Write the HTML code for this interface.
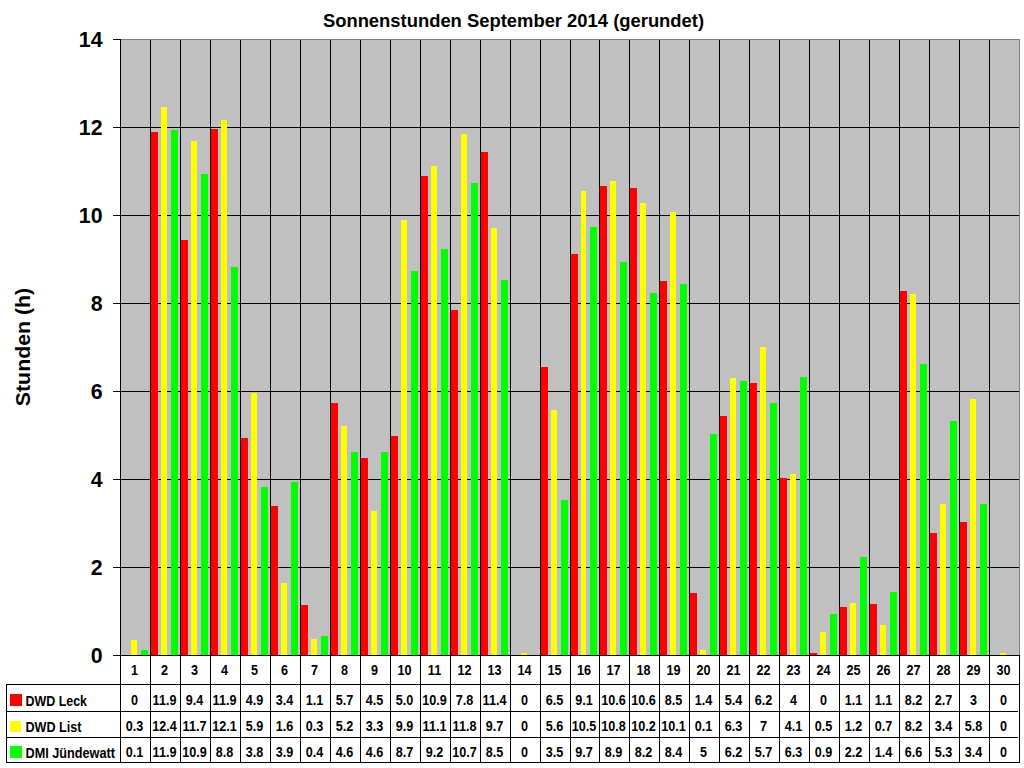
<!DOCTYPE html>
<html lang="de"><head><meta charset="utf-8"><title>Sonnenstunden September 2014</title>
<style>html,body{margin:0;padding:0;background:#fff;overflow:hidden}svg{display:block}text{font-family:"Liberation Sans",Arial,sans-serif;font-weight:bold;fill:#000}.t{font-size:18.4px}.y{font-size:21.33px}.n{font-size:14.67px}.v{font-size:15.4px}</style></head><body>
<svg width="1024" height="768" viewBox="0 0 1024 768">
<rect x="0" y="0" width="1024" height="768" fill="#fff"/>
<g shape-rendering="crispEdges">
<rect x="120" y="39" width="900" height="617" fill="#808080"/>
<rect x="121" y="40" width="898" height="615" fill="#c0c0c0"/>
<rect x="121" y="567" width="898" height="1" fill="#000"/>
<rect x="121" y="479" width="898" height="1" fill="#000"/>
<rect x="121" y="391" width="898" height="1" fill="#000"/>
<rect x="121" y="303" width="898" height="1" fill="#000"/>
<rect x="121" y="215" width="898" height="1" fill="#000"/>
<rect x="121" y="127" width="898" height="1" fill="#000"/>
<rect x="150" y="40" width="1" height="723" fill="#000"/>
<rect x="180" y="40" width="1" height="723" fill="#000"/>
<rect x="210" y="40" width="1" height="723" fill="#000"/>
<rect x="240" y="40" width="1" height="723" fill="#000"/>
<rect x="270" y="40" width="1" height="723" fill="#000"/>
<rect x="300" y="40" width="1" height="723" fill="#000"/>
<rect x="330" y="40" width="1" height="723" fill="#000"/>
<rect x="360" y="40" width="1" height="723" fill="#000"/>
<rect x="390" y="40" width="1" height="723" fill="#000"/>
<rect x="420" y="40" width="1" height="723" fill="#000"/>
<rect x="450" y="40" width="1" height="723" fill="#000"/>
<rect x="480" y="40" width="1" height="723" fill="#000"/>
<rect x="510" y="40" width="1" height="723" fill="#000"/>
<rect x="540" y="40" width="1" height="723" fill="#000"/>
<rect x="570" y="40" width="1" height="723" fill="#000"/>
<rect x="599" y="40" width="1" height="723" fill="#000"/>
<rect x="629" y="40" width="1" height="723" fill="#000"/>
<rect x="659" y="40" width="1" height="723" fill="#000"/>
<rect x="689" y="40" width="1" height="723" fill="#000"/>
<rect x="719" y="40" width="1" height="723" fill="#000"/>
<rect x="749" y="40" width="1" height="723" fill="#000"/>
<rect x="779" y="40" width="1" height="723" fill="#000"/>
<rect x="809" y="40" width="1" height="723" fill="#000"/>
<rect x="839" y="40" width="1" height="723" fill="#000"/>
<rect x="869" y="40" width="1" height="723" fill="#000"/>
<rect x="899" y="40" width="1" height="723" fill="#000"/>
<rect x="929" y="40" width="1" height="723" fill="#000"/>
<rect x="959" y="40" width="1" height="723" fill="#000"/>
<rect x="989" y="40" width="1" height="723" fill="#000"/>
<rect x="131" y="640" width="6" height="15" fill="#ffff00"/>
<rect x="141" y="650" width="7" height="5" fill="#00ff00"/>
<rect x="151" y="132" width="7" height="523" fill="#ff0000"/>
<rect x="161" y="107" width="6" height="548" fill="#ffff00"/>
<rect x="171" y="130" width="7" height="525" fill="#00ff00"/>
<rect x="181" y="240" width="7" height="415" fill="#ff0000"/>
<rect x="191" y="141" width="6" height="514" fill="#ffff00"/>
<rect x="201" y="174" width="7" height="481" fill="#00ff00"/>
<rect x="211" y="129" width="7" height="526" fill="#ff0000"/>
<rect x="221" y="120" width="6" height="535" fill="#ffff00"/>
<rect x="231" y="267" width="7" height="388" fill="#00ff00"/>
<rect x="241" y="438" width="7" height="217" fill="#ff0000"/>
<rect x="251" y="393" width="6" height="262" fill="#ffff00"/>
<rect x="261" y="487" width="7" height="168" fill="#00ff00"/>
<rect x="271" y="506" width="7" height="149" fill="#ff0000"/>
<rect x="281" y="583" width="6" height="72" fill="#ffff00"/>
<rect x="291" y="482" width="7" height="173" fill="#00ff00"/>
<rect x="301" y="605" width="7" height="50" fill="#ff0000"/>
<rect x="311" y="639" width="6" height="16" fill="#ffff00"/>
<rect x="321" y="636" width="7" height="19" fill="#00ff00"/>
<rect x="331" y="403" width="7" height="252" fill="#ff0000"/>
<rect x="341" y="426" width="6" height="229" fill="#ffff00"/>
<rect x="351" y="452" width="7" height="203" fill="#00ff00"/>
<rect x="361" y="458" width="7" height="197" fill="#ff0000"/>
<rect x="371" y="511" width="6" height="144" fill="#ffff00"/>
<rect x="381" y="452" width="7" height="203" fill="#00ff00"/>
<rect x="391" y="436" width="7" height="219" fill="#ff0000"/>
<rect x="401" y="220" width="6" height="435" fill="#ffff00"/>
<rect x="411" y="271" width="7" height="384" fill="#00ff00"/>
<rect x="421" y="176" width="7" height="479" fill="#ff0000"/>
<rect x="431" y="166" width="6" height="489" fill="#ffff00"/>
<rect x="441" y="249" width="7" height="406" fill="#00ff00"/>
<rect x="451" y="310" width="7" height="345" fill="#ff0000"/>
<rect x="461" y="134" width="6" height="521" fill="#ffff00"/>
<rect x="471" y="183" width="7" height="472" fill="#00ff00"/>
<rect x="481" y="152" width="7" height="503" fill="#ff0000"/>
<rect x="491" y="228" width="6" height="427" fill="#ffff00"/>
<rect x="501" y="280" width="7" height="375" fill="#00ff00"/>
<rect x="521" y="653" width="6" height="2" fill="#ffff00"/>
<rect x="541" y="367" width="7" height="288" fill="#ff0000"/>
<rect x="551" y="410" width="6" height="245" fill="#ffff00"/>
<rect x="561" y="500" width="7" height="155" fill="#00ff00"/>
<rect x="571" y="254" width="7" height="401" fill="#ff0000"/>
<rect x="581" y="191" width="5" height="464" fill="#ffff00"/>
<rect x="590" y="227" width="7" height="428" fill="#00ff00"/>
<rect x="600" y="186" width="7" height="469" fill="#ff0000"/>
<rect x="610" y="181" width="6" height="474" fill="#ffff00"/>
<rect x="620" y="262" width="7" height="393" fill="#00ff00"/>
<rect x="630" y="188" width="7" height="467" fill="#ff0000"/>
<rect x="640" y="203" width="6" height="452" fill="#ffff00"/>
<rect x="650" y="293" width="7" height="362" fill="#00ff00"/>
<rect x="660" y="281" width="7" height="374" fill="#ff0000"/>
<rect x="670" y="212" width="6" height="443" fill="#ffff00"/>
<rect x="680" y="284" width="7" height="371" fill="#00ff00"/>
<rect x="690" y="593" width="7" height="62" fill="#ff0000"/>
<rect x="700" y="650" width="6" height="5" fill="#ffff00"/>
<rect x="710" y="434" width="7" height="221" fill="#00ff00"/>
<rect x="720" y="416" width="7" height="239" fill="#ff0000"/>
<rect x="730" y="378" width="6" height="277" fill="#ffff00"/>
<rect x="740" y="381" width="7" height="274" fill="#00ff00"/>
<rect x="750" y="383" width="7" height="272" fill="#ff0000"/>
<rect x="760" y="347" width="6" height="308" fill="#ffff00"/>
<rect x="770" y="403" width="7" height="252" fill="#00ff00"/>
<rect x="780" y="478" width="7" height="177" fill="#ff0000"/>
<rect x="790" y="474" width="6" height="181" fill="#ffff00"/>
<rect x="800" y="377" width="7" height="278" fill="#00ff00"/>
<rect x="810" y="653" width="7" height="2" fill="#ff0000"/>
<rect x="820" y="632" width="6" height="23" fill="#ffff00"/>
<rect x="830" y="614" width="7" height="41" fill="#00ff00"/>
<rect x="840" y="607" width="7" height="48" fill="#ff0000"/>
<rect x="850" y="603" width="6" height="52" fill="#ffff00"/>
<rect x="860" y="557" width="7" height="98" fill="#00ff00"/>
<rect x="870" y="604" width="7" height="51" fill="#ff0000"/>
<rect x="880" y="625" width="6" height="30" fill="#ffff00"/>
<rect x="890" y="592" width="7" height="63" fill="#00ff00"/>
<rect x="900" y="291" width="7" height="364" fill="#ff0000"/>
<rect x="910" y="294" width="6" height="361" fill="#ffff00"/>
<rect x="920" y="364" width="7" height="291" fill="#00ff00"/>
<rect x="930" y="533" width="7" height="122" fill="#ff0000"/>
<rect x="940" y="504" width="6" height="151" fill="#ffff00"/>
<rect x="950" y="421" width="7" height="234" fill="#00ff00"/>
<rect x="960" y="522" width="7" height="133" fill="#ff0000"/>
<rect x="970" y="399" width="6" height="256" fill="#ffff00"/>
<rect x="980" y="504" width="7" height="151" fill="#00ff00"/>
<rect x="1000" y="653" width="6" height="2" fill="#ffff00"/>
<rect x="120" y="39" width="1" height="724" fill="#000"/>
<rect x="113" y="655" width="907" height="1" fill="#000"/>
<rect x="113" y="655" width="7" height="1" fill="#000"/>
<rect x="113" y="567" width="7" height="1" fill="#000"/>
<rect x="113" y="479" width="7" height="1" fill="#000"/>
<rect x="113" y="391" width="7" height="1" fill="#000"/>
<rect x="113" y="303" width="7" height="1" fill="#000"/>
<rect x="113" y="215" width="7" height="1" fill="#000"/>
<rect x="113" y="127" width="7" height="1" fill="#000"/>
<rect x="113" y="39" width="7" height="1" fill="#000"/>
<rect x="6" y="684" width="1014" height="1" fill="#000"/>
<rect x="6" y="711" width="1012" height="1" fill="#000"/>
<rect x="6" y="737" width="1012" height="1" fill="#000"/>
<rect x="6" y="762" width="1014" height="1" fill="#000"/>
<rect x="6" y="684" width="1" height="79" fill="#000"/>
<rect x="1019" y="656" width="1" height="107" fill="#000"/>
<rect x="10" y="694" width="12" height="12" fill="#ff0000"/>
<rect x="10" y="721" width="11" height="11" fill="#ffff00"/>
<rect x="10" y="746" width="12" height="12" fill="#00ff00"/>
</g>
<text class="t" x="513.5" y="27" text-anchor="middle">Sonnenstunden September 2014 (gerundet)</text>
<text class="y" x="102.5" y="663" text-anchor="end">0</text>
<text class="y" x="102.5" y="575" text-anchor="end">2</text>
<text class="y" x="102.5" y="487" text-anchor="end">4</text>
<text class="y" x="102.5" y="399" text-anchor="end">6</text>
<text class="y" x="102.5" y="311" text-anchor="end">8</text>
<text class="y" x="102.5" y="223" text-anchor="end">10</text>
<text class="y" x="102.5" y="135" text-anchor="end">12</text>
<text class="y" x="102.5" y="47" text-anchor="end">14</text>
<text class="y" transform="translate(30,347) rotate(-90) scale(1,0.94)" text-anchor="middle">Stunden (h)</text>
<text class="v" transform="translate(134.5,675) scale(0.82,1)" text-anchor="middle">1</text>
<text class="v" transform="translate(134.5,705) scale(0.82,1)" text-anchor="middle">0</text>
<text class="v" transform="translate(134.5,731) scale(0.82,1)" text-anchor="middle">0.3</text>
<text class="v" transform="translate(134.5,757) scale(0.82,1)" text-anchor="middle">0.1</text>
<text class="v" transform="translate(164.5,675) scale(0.82,1)" text-anchor="middle">2</text>
<text class="v" transform="translate(164.5,705) scale(0.82,1)" text-anchor="middle">11.9</text>
<text class="v" transform="translate(164.5,731) scale(0.82,1)" text-anchor="middle">12.4</text>
<text class="v" transform="translate(164.5,757) scale(0.82,1)" text-anchor="middle">11.9</text>
<text class="v" transform="translate(194.5,675) scale(0.82,1)" text-anchor="middle">3</text>
<text class="v" transform="translate(194.5,705) scale(0.82,1)" text-anchor="middle">9.4</text>
<text class="v" transform="translate(194.5,731) scale(0.82,1)" text-anchor="middle">11.7</text>
<text class="v" transform="translate(194.5,757) scale(0.82,1)" text-anchor="middle">10.9</text>
<text class="v" transform="translate(224.5,675) scale(0.82,1)" text-anchor="middle">4</text>
<text class="v" transform="translate(224.5,705) scale(0.82,1)" text-anchor="middle">11.9</text>
<text class="v" transform="translate(224.5,731) scale(0.82,1)" text-anchor="middle">12.1</text>
<text class="v" transform="translate(224.5,757) scale(0.82,1)" text-anchor="middle">8.8</text>
<text class="v" transform="translate(254.5,675) scale(0.82,1)" text-anchor="middle">5</text>
<text class="v" transform="translate(254.5,705) scale(0.82,1)" text-anchor="middle">4.9</text>
<text class="v" transform="translate(254.5,731) scale(0.82,1)" text-anchor="middle">5.9</text>
<text class="v" transform="translate(254.5,757) scale(0.82,1)" text-anchor="middle">3.8</text>
<text class="v" transform="translate(284.5,675) scale(0.82,1)" text-anchor="middle">6</text>
<text class="v" transform="translate(284.5,705) scale(0.82,1)" text-anchor="middle">3.4</text>
<text class="v" transform="translate(284.5,731) scale(0.82,1)" text-anchor="middle">1.6</text>
<text class="v" transform="translate(284.5,757) scale(0.82,1)" text-anchor="middle">3.9</text>
<text class="v" transform="translate(314.5,675) scale(0.82,1)" text-anchor="middle">7</text>
<text class="v" transform="translate(314.5,705) scale(0.82,1)" text-anchor="middle">1.1</text>
<text class="v" transform="translate(314.5,731) scale(0.82,1)" text-anchor="middle">0.3</text>
<text class="v" transform="translate(314.5,757) scale(0.82,1)" text-anchor="middle">0.4</text>
<text class="v" transform="translate(344.5,675) scale(0.82,1)" text-anchor="middle">8</text>
<text class="v" transform="translate(344.5,705) scale(0.82,1)" text-anchor="middle">5.7</text>
<text class="v" transform="translate(344.5,731) scale(0.82,1)" text-anchor="middle">5.2</text>
<text class="v" transform="translate(344.5,757) scale(0.82,1)" text-anchor="middle">4.6</text>
<text class="v" transform="translate(374.5,675) scale(0.82,1)" text-anchor="middle">9</text>
<text class="v" transform="translate(374.5,705) scale(0.82,1)" text-anchor="middle">4.5</text>
<text class="v" transform="translate(374.5,731) scale(0.82,1)" text-anchor="middle">3.3</text>
<text class="v" transform="translate(374.5,757) scale(0.82,1)" text-anchor="middle">4.6</text>
<text class="v" transform="translate(404.5,675) scale(0.82,1)" text-anchor="middle">10</text>
<text class="v" transform="translate(404.5,705) scale(0.82,1)" text-anchor="middle">5.0</text>
<text class="v" transform="translate(404.5,731) scale(0.82,1)" text-anchor="middle">9.9</text>
<text class="v" transform="translate(404.5,757) scale(0.82,1)" text-anchor="middle">8.7</text>
<text class="v" transform="translate(434.5,675) scale(0.82,1)" text-anchor="middle">11</text>
<text class="v" transform="translate(434.5,705) scale(0.82,1)" text-anchor="middle">10.9</text>
<text class="v" transform="translate(434.5,731) scale(0.82,1)" text-anchor="middle">11.1</text>
<text class="v" transform="translate(434.5,757) scale(0.82,1)" text-anchor="middle">9.2</text>
<text class="v" transform="translate(464.5,675) scale(0.82,1)" text-anchor="middle">12</text>
<text class="v" transform="translate(464.5,705) scale(0.82,1)" text-anchor="middle">7.8</text>
<text class="v" transform="translate(464.5,731) scale(0.82,1)" text-anchor="middle">11.8</text>
<text class="v" transform="translate(464.5,757) scale(0.82,1)" text-anchor="middle">10.7</text>
<text class="v" transform="translate(494.5,675) scale(0.82,1)" text-anchor="middle">13</text>
<text class="v" transform="translate(494.5,705) scale(0.82,1)" text-anchor="middle">11.4</text>
<text class="v" transform="translate(494.5,731) scale(0.82,1)" text-anchor="middle">9.7</text>
<text class="v" transform="translate(494.5,757) scale(0.82,1)" text-anchor="middle">8.5</text>
<text class="v" transform="translate(524.5,675) scale(0.82,1)" text-anchor="middle">14</text>
<text class="v" transform="translate(524.5,705) scale(0.82,1)" text-anchor="middle">0</text>
<text class="v" transform="translate(524.5,731) scale(0.82,1)" text-anchor="middle">0</text>
<text class="v" transform="translate(524.5,757) scale(0.82,1)" text-anchor="middle">0</text>
<text class="v" transform="translate(554.5,675) scale(0.82,1)" text-anchor="middle">15</text>
<text class="v" transform="translate(554.5,705) scale(0.82,1)" text-anchor="middle">6.5</text>
<text class="v" transform="translate(554.5,731) scale(0.82,1)" text-anchor="middle">5.6</text>
<text class="v" transform="translate(554.5,757) scale(0.82,1)" text-anchor="middle">3.5</text>
<text class="v" transform="translate(584.0,675) scale(0.82,1)" text-anchor="middle">16</text>
<text class="v" transform="translate(584.0,705) scale(0.82,1)" text-anchor="middle">9.1</text>
<text class="v" transform="translate(584.0,731) scale(0.82,1)" text-anchor="middle">10.5</text>
<text class="v" transform="translate(584.0,757) scale(0.82,1)" text-anchor="middle">9.7</text>
<text class="v" transform="translate(613.5,675) scale(0.82,1)" text-anchor="middle">17</text>
<text class="v" transform="translate(613.5,705) scale(0.82,1)" text-anchor="middle">10.6</text>
<text class="v" transform="translate(613.5,731) scale(0.82,1)" text-anchor="middle">10.8</text>
<text class="v" transform="translate(613.5,757) scale(0.82,1)" text-anchor="middle">8.9</text>
<text class="v" transform="translate(643.5,675) scale(0.82,1)" text-anchor="middle">18</text>
<text class="v" transform="translate(643.5,705) scale(0.82,1)" text-anchor="middle">10.6</text>
<text class="v" transform="translate(643.5,731) scale(0.82,1)" text-anchor="middle">10.2</text>
<text class="v" transform="translate(643.5,757) scale(0.82,1)" text-anchor="middle">8.2</text>
<text class="v" transform="translate(673.5,675) scale(0.82,1)" text-anchor="middle">19</text>
<text class="v" transform="translate(673.5,705) scale(0.82,1)" text-anchor="middle">8.5</text>
<text class="v" transform="translate(673.5,731) scale(0.82,1)" text-anchor="middle">10.1</text>
<text class="v" transform="translate(673.5,757) scale(0.82,1)" text-anchor="middle">8.4</text>
<text class="v" transform="translate(703.5,675) scale(0.82,1)" text-anchor="middle">20</text>
<text class="v" transform="translate(703.5,705) scale(0.82,1)" text-anchor="middle">1.4</text>
<text class="v" transform="translate(703.5,731) scale(0.82,1)" text-anchor="middle">0.1</text>
<text class="v" transform="translate(703.5,757) scale(0.82,1)" text-anchor="middle">5</text>
<text class="v" transform="translate(733.5,675) scale(0.82,1)" text-anchor="middle">21</text>
<text class="v" transform="translate(733.5,705) scale(0.82,1)" text-anchor="middle">5.4</text>
<text class="v" transform="translate(733.5,731) scale(0.82,1)" text-anchor="middle">6.3</text>
<text class="v" transform="translate(733.5,757) scale(0.82,1)" text-anchor="middle">6.2</text>
<text class="v" transform="translate(763.5,675) scale(0.82,1)" text-anchor="middle">22</text>
<text class="v" transform="translate(763.5,705) scale(0.82,1)" text-anchor="middle">6.2</text>
<text class="v" transform="translate(763.5,731) scale(0.82,1)" text-anchor="middle">7</text>
<text class="v" transform="translate(763.5,757) scale(0.82,1)" text-anchor="middle">5.7</text>
<text class="v" transform="translate(793.5,675) scale(0.82,1)" text-anchor="middle">23</text>
<text class="v" transform="translate(793.5,705) scale(0.82,1)" text-anchor="middle">4</text>
<text class="v" transform="translate(793.5,731) scale(0.82,1)" text-anchor="middle">4.1</text>
<text class="v" transform="translate(793.5,757) scale(0.82,1)" text-anchor="middle">6.3</text>
<text class="v" transform="translate(823.5,675) scale(0.82,1)" text-anchor="middle">24</text>
<text class="v" transform="translate(823.5,705) scale(0.82,1)" text-anchor="middle">0</text>
<text class="v" transform="translate(823.5,731) scale(0.82,1)" text-anchor="middle">0.5</text>
<text class="v" transform="translate(823.5,757) scale(0.82,1)" text-anchor="middle">0.9</text>
<text class="v" transform="translate(853.5,675) scale(0.82,1)" text-anchor="middle">25</text>
<text class="v" transform="translate(853.5,705) scale(0.82,1)" text-anchor="middle">1.1</text>
<text class="v" transform="translate(853.5,731) scale(0.82,1)" text-anchor="middle">1.2</text>
<text class="v" transform="translate(853.5,757) scale(0.82,1)" text-anchor="middle">2.2</text>
<text class="v" transform="translate(883.5,675) scale(0.82,1)" text-anchor="middle">26</text>
<text class="v" transform="translate(883.5,705) scale(0.82,1)" text-anchor="middle">1.1</text>
<text class="v" transform="translate(883.5,731) scale(0.82,1)" text-anchor="middle">0.7</text>
<text class="v" transform="translate(883.5,757) scale(0.82,1)" text-anchor="middle">1.4</text>
<text class="v" transform="translate(913.5,675) scale(0.82,1)" text-anchor="middle">27</text>
<text class="v" transform="translate(913.5,705) scale(0.82,1)" text-anchor="middle">8.2</text>
<text class="v" transform="translate(913.5,731) scale(0.82,1)" text-anchor="middle">8.2</text>
<text class="v" transform="translate(913.5,757) scale(0.82,1)" text-anchor="middle">6.6</text>
<text class="v" transform="translate(943.5,675) scale(0.82,1)" text-anchor="middle">28</text>
<text class="v" transform="translate(943.5,705) scale(0.82,1)" text-anchor="middle">2.7</text>
<text class="v" transform="translate(943.5,731) scale(0.82,1)" text-anchor="middle">3.4</text>
<text class="v" transform="translate(943.5,757) scale(0.82,1)" text-anchor="middle">5.3</text>
<text class="v" transform="translate(973.5,675) scale(0.82,1)" text-anchor="middle">29</text>
<text class="v" transform="translate(973.5,705) scale(0.82,1)" text-anchor="middle">3</text>
<text class="v" transform="translate(973.5,731) scale(0.82,1)" text-anchor="middle">5.8</text>
<text class="v" transform="translate(973.5,757) scale(0.82,1)" text-anchor="middle">3.4</text>
<text class="v" transform="translate(1003.5,675) scale(0.82,1)" text-anchor="middle">30</text>
<text class="v" transform="translate(1003.5,705) scale(0.82,1)" text-anchor="middle">0</text>
<text class="v" transform="translate(1003.5,731) scale(0.82,1)" text-anchor="middle">0</text>
<text class="v" transform="translate(1003.5,757) scale(0.82,1)" text-anchor="middle">0</text>
<text class="n" x="25.5" y="706" textLength="61.5" lengthAdjust="spacingAndGlyphs">DWD Leck</text>
<text class="n" x="25.5" y="732" textLength="56" lengthAdjust="spacingAndGlyphs">DWD List</text>
<text class="n" x="25.5" y="758" textLength="89.5" lengthAdjust="spacingAndGlyphs">DMI Jündewatt</text>
</svg></body></html>
